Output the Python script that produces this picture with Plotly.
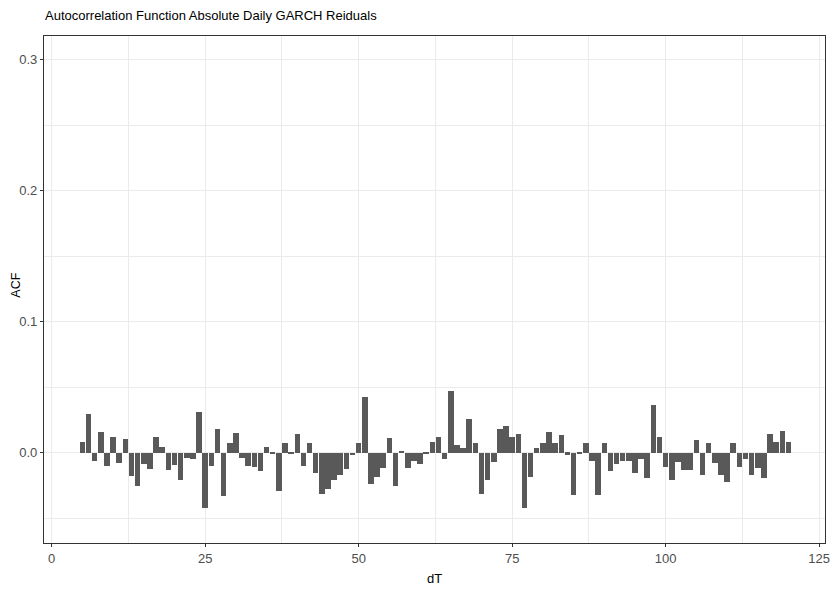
import plotly.graph_objects as go

# Lags (dT) and ACF values
dT = list(range(5, 121))
acf = [
    0.0086, 0.0300, -0.0060, 0.0157, -0.0100, 0.0119, -0.0078, 0.0109, -0.0177, -0.0255,   # 5-14
    -0.0084, -0.0120, 0.0119, 0.0043, -0.0130, -0.0089, -0.0205, -0.0038, -0.0043, 0.0314,  # 15-24
    -0.0418, -0.0096, 0.0182, -0.0332, 0.0073, 0.0149, -0.0040, -0.0100, -0.0104, -0.0139,  # 25-34
    0.0048, -0.0010, -0.0294, 0.0076, -0.0008, 0.0144, -0.0096, 0.0076, -0.0152, -0.0310,   # 35-44
    -0.0273, -0.0210, -0.0167, -0.0122, -0.0018, 0.0076, 0.0423, -0.0235, -0.0180, -0.0116, # 45-54
    0.0111, -0.0250, 0.0010, -0.0116, -0.0058, -0.0084, -0.0010, 0.0080, 0.0119, -0.0046,   # 55-64
    0.0473, 0.0063, 0.0035, 0.0256, 0.0076, -0.0310, -0.0210, -0.0066, 0.0180, 0.0205,      # 65-74
    0.0124, 0.0144, -0.0418, -0.0180, 0.0035, 0.0078, 0.0157, 0.0078, 0.0134, -0.0013,      # 75-84
    -0.0320, -0.0010, 0.0076, -0.0058, -0.0320, 0.0076, -0.0139, -0.0084, -0.0058, -0.0058, # 85-94
    -0.0152, -0.0046, -0.0190, 0.0365, 0.0119, -0.0104, -0.0205, -0.0066, -0.0130, -0.0130, # 95-104
    0.0099, -0.0167, 0.0076, -0.0078, -0.0167, -0.0223, 0.0073, -0.0104, -0.0046, -0.0167,  # 105-114
    -0.0116, -0.0190, 0.0144, 0.0080, 0.0170, 0.0086,                                       # 115-120
]

x_ticks = [0, 25, 50, 75, 100, 125]
y_ticks = [0.0, 0.1, 0.2, 0.3]
y_tick_text = ["0.0", "0.1", "0.2", "0.3"]

title_text = "Autocorrelation Function Absolute Daily GARCH Reiduals"
x_title = "dT"
y_title = "ACF"
FONT = "Liberation Sans, Arial, sans-serif"

W, H = 830, 595
ML, MR, MT, MB = 44, 0, 36, 52

fig = go.Figure()
fig.add_trace(go.Bar(
    x=dT, y=acf, width=0.9,
    marker=dict(color="#595959", line=dict(width=0)),
    hoverinfo="x+y",
))

fig.update_layout(
    width=W, height=H,
    margin=dict(l=ML, r=MR, t=MT, b=MB),
    paper_bgcolor="white", plot_bgcolor="white",
    showlegend=False,
    bargap=0,
    font=dict(family=FONT),
)

axis_common = dict(
    showgrid=True, gridcolor="#ebebeb", gridwidth=1.1,
    showline=True, mirror=True, linecolor="#333333", linewidth=1.1,
    ticks="outside", ticklen=3, tickcolor="#333333", tickwidth=1,
    zeroline=False,
    tickfont=dict(family=FONT, size=13, color="#4d4d4d"),
)

fig.update_xaxes(
    range=[-1.25, 125.95], tickvals=x_ticks, ticktext=[str(v) for v in x_ticks],
    ticklabeloverflow="allow",
    minor=dict(tickvals=[12.5, 37.5, 62.5, 87.5, 112.5], showgrid=True,
               gridcolor="#ebebeb", gridwidth=0.6, ticks=""),
    **axis_common,
)
fig.update_yaxes(
    range=[-0.0687, 0.318], tickvals=y_ticks, ticktext=y_tick_text,
    minor=dict(tickvals=[-0.05, 0.05, 0.15, 0.25], showgrid=True,
               gridcolor="#ebebeb", gridwidth=0.6, ticks=""),
    **axis_common,
)

pw = W - ML - MR
ph = H - MT - MB
fig.add_annotation(text=title_text, xref="paper", yref="paper",
                   x=(43 - ML) / pw, y=(H - MB - 15) / ph, xanchor="left", yanchor="middle",
                   showarrow=False, font=dict(family=FONT, size=13, color="#000000"))
fig.add_annotation(text=x_title, xref="paper", yref="paper",
                   x=(437 - ML) / pw, y=(H - MB - 578) / ph, xanchor="center", yanchor="middle",
                   showarrow=False, font=dict(family=FONT, size=13, color="#000000"))
fig.add_annotation(text=y_title, xref="paper", yref="paper", textangle=-90,
                   x=(15.5 - ML) / pw, y=(H - MB - 285) / ph, xanchor="center", yanchor="middle",
                   showarrow=False, font=dict(family=FONT, size=12.5, color="#000000"))

fig.write_html("out.html")
